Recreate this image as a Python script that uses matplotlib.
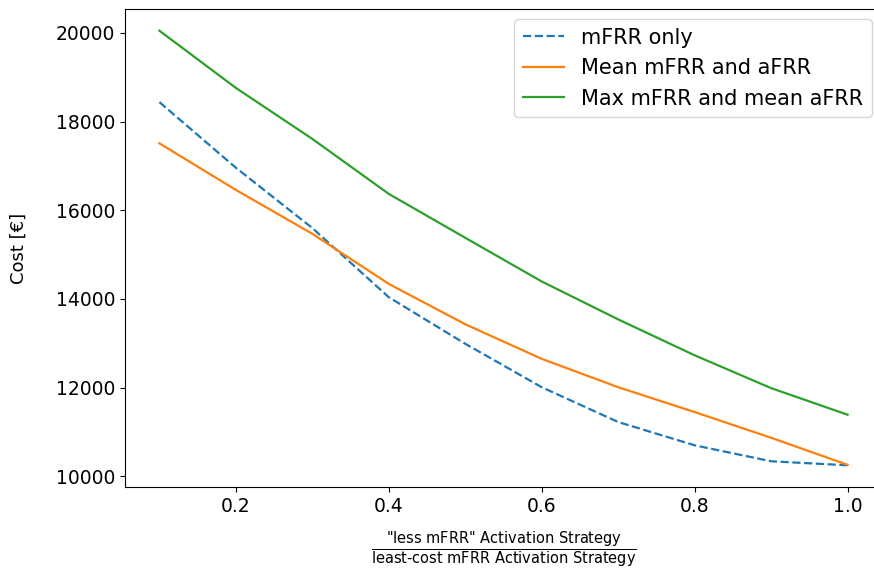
import matplotlib
matplotlib.use("Agg")
import matplotlib.pyplot as plt

ratio = [0.1, 0.2, 0.3, 0.4, 0.5, 0.6, 0.7, 0.8, 0.9, 1.0]
mfrr_only = [18440, 16960, 15600, 14040, 12990, 12010, 11225, 10700, 10340, 10250]
mean_mfrr_afrr = [17510, 16460, 15470, 14340, 13430, 12650, 12010, 11450, 10870, 10260]
max_mfrr_mean_afrr = [20050, 18760, 17610, 16370, 15380, 14395, 13540, 12730, 11990, 11390]

fig = plt.figure(figsize=(8.74, 5.72), dpi=100)
ax = fig.add_axes([125 / 874, 1 - 487 / 572, (882 - 125) / 874, (487 - 9) / 572])
ax.spines["right"].set_visible(False)

ax.plot(ratio, mfrr_only, linestyle="--", color="#1f77b4", lw=1.6, label="mFRR only")
ax.plot(ratio, mean_mfrr_afrr, color="#ff7f0e", lw=1.6, label="Mean mFRR and aFRR")
ax.plot(ratio, max_mfrr_mean_afrr, color="#2ca02c", lw=1.6, label="Max mFRR and mean aFRR")

ax.set_xticks([0.2, 0.4, 0.6, 0.8, 1.0])
ax.set_yticks([10000, 12000, 14000, 16000, 18000, 20000])
ax.tick_params(labelsize=13.5)
ax.set_ylabel("Cost [€]", fontsize=13, labelpad=20)
ax.set_xlabel(r'$\frac{\text{"less mFRR" Activation Strategy}}'
              r'{\text{least-cost mFRR Activation Strategy}}$',
              fontsize=15, labelpad=10)
ax.legend(fontsize=15, loc="upper right")

fig.savefig("out.png", dpi=100)
